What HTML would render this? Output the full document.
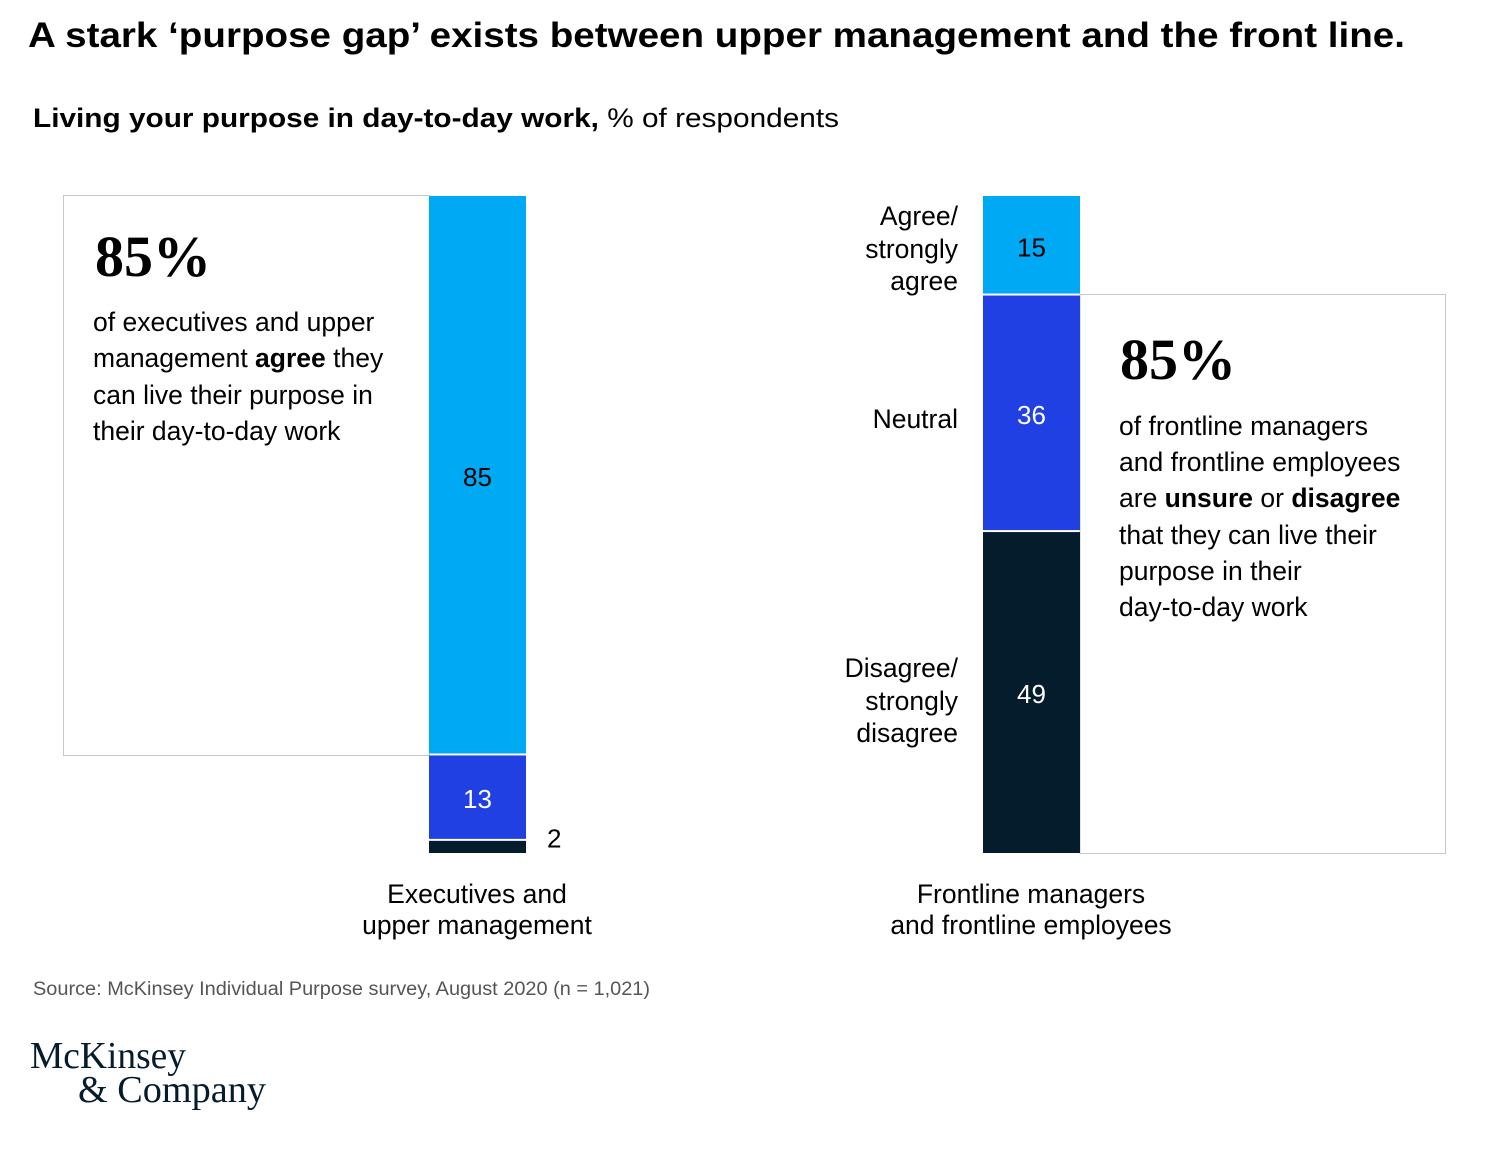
<!DOCTYPE html>
<html><head><meta charset="utf-8"><style>
body{margin:0;background:#fff}
svg{display:block}
text{font-family:"Liberation Sans",sans-serif;fill:#000}
.s{font-family:"Liberation Serif",serif}
</style></head><body>
<svg id="c" width="1488" height="1151" viewBox="0 0 1488 1151">
<text x="28" y="47" font-size="35" font-weight="bold" textLength="1377" lengthAdjust="spacingAndGlyphs">A stark ‘purpose gap’ exists between upper management and the front line.</text>
<text x="33" y="127" font-size="27" textLength="806" lengthAdjust="spacingAndGlyphs"><tspan font-weight="bold">Living your purpose in day-to-day work,</tspan> % of respondents</text>

<rect x="63.5" y="195.5" width="366" height="560" fill="none" stroke="#c8c8c8" stroke-width="1"/>
<rect x="1080" y="294.5" width="365.5" height="559" fill="none" stroke="#c8c8c8" stroke-width="1"/>

<g id="bars"></g>

<g>
<text class="s" x="95" y="276" font-size="58" font-weight="bold">85%</text>
<text x="93" y="331" font-size="26.5">of executives and upper</text>
<text x="93" y="367" font-size="26.5">management <tspan font-weight="bold">agree</tspan> they</text>
<text x="93" y="404" font-size="26.5">can live their purpose in</text>
<text x="93" y="440" font-size="26.5">their day-to-day work</text>
</g>
<g>
<text class="s" x="1120" y="379" font-size="58" font-weight="bold">85%</text>
<text x="1119" y="435" font-size="26.5">of frontline managers</text>
<text x="1119" y="471" font-size="26.5">and frontline employees</text>
<text x="1119" y="507" font-size="26.5">are <tspan font-weight="bold">unsure</tspan> or <tspan font-weight="bold">disagree</tspan></text>
<text x="1119" y="544" font-size="26.5">that they can live their</text>
<text x="1119" y="580" font-size="26.5">purpose in their</text>
<text x="1119" y="616" font-size="26.5">day-to-day work</text>
</g>

<g font-size="26.5" text-anchor="middle">
<text x="477" y="903">Executives and</text>
<text x="477" y="934">upper management</text>
<text x="1031" y="903">Frontline managers</text>
<text x="1031" y="934">and frontline employees</text>
</g>

<g font-size="26.5" text-anchor="end">
<text x="958" y="225">Agree/</text><text x="958" y="258">strongly</text><text x="958" y="290">agree</text>
<text x="958" y="428">Neutral</text>
<text x="958" y="677">Disagree/</text><text x="958" y="710">strongly</text><text x="958" y="742">disagree</text>
</g>

<text x="33" y="995" font-size="19" style="fill:#555" textLength="617" lengthAdjust="spacingAndGlyphs">Source: McKinsey Individual Purpose survey, August 2020 (n = 1,021)</text>

<g>
<text class="s" x="30" y="1068" font-size="38" style="fill:#051c2c" textLength="156" lengthAdjust="spacingAndGlyphs">McKinsey</text>
<text class="s" x="78" y="1102" font-size="38" style="fill:#051c2c" textLength="188" lengthAdjust="spacingAndGlyphs">&amp; Company</text>
</g>
</svg>
<script>
const categories = ["Executives and upper management", "Frontline managers and frontline employees"];
const agreeValues = [85, 15];
const neutralValues = [13, 36];
const disagreeValues = [2, 49];
const segmentColors = ["#00a9f4", "#2140e3", "#051c2c"];
const labelColors = ["#000", "#fff", "#fff"];
const segNames = ["agree", "neutral", "disagree"];

const top0 = 196, bottom0 = 853;
const xLeft = [429, 983], barW = 97;
function yScale(v){ return top0 + v / 100 * (bottom0 - top0); }

const g = document.getElementById('bars');
const NS = "http://www.w3.org/2000/svg";
categories.forEach((cat, i) => {
  const vals = [agreeValues[i], neutralValues[i], disagreeValues[i]];
  let cum = 0;
  vals.forEach((v, k) => {
    const y0 = yScale(cum), y1 = yScale(cum + v);
    cum += v;
    const r = document.createElementNS(NS, 'rect');
    
    
    r.setAttribute('x', xLeft[i]);
    r.setAttribute('y', y0 + (k > 0 ? 1 : 0));
    r.setAttribute('width', barW);
    r.setAttribute('height', Math.max(0, y1 - y0 - (k > 0 ? 1 : 0) - (k < 2 ? 1 : 0)));
    r.setAttribute('fill', segmentColors[k]);
    g.appendChild(r);
    const t = document.createElementNS(NS, 'text');
    
    
    t.setAttribute('font-size', '26');
    t.textContent = v;
    if (v < 5) {
      t.setAttribute('x', xLeft[i] + barW + 21);
      t.setAttribute('y', (y0 + y1) / 2 + 1);
      t.setAttribute('style', 'fill:#000');
    } else {
      t.setAttribute('x', xLeft[i] + barW / 2);
      t.setAttribute('text-anchor', 'middle');
      t.setAttribute('y', (y0 + y1) / 2 + 11);
      t.setAttribute('style', 'fill:' + labelColors[k]);
    }
    g.appendChild(t);
  });
});
</script>
</body></html>
